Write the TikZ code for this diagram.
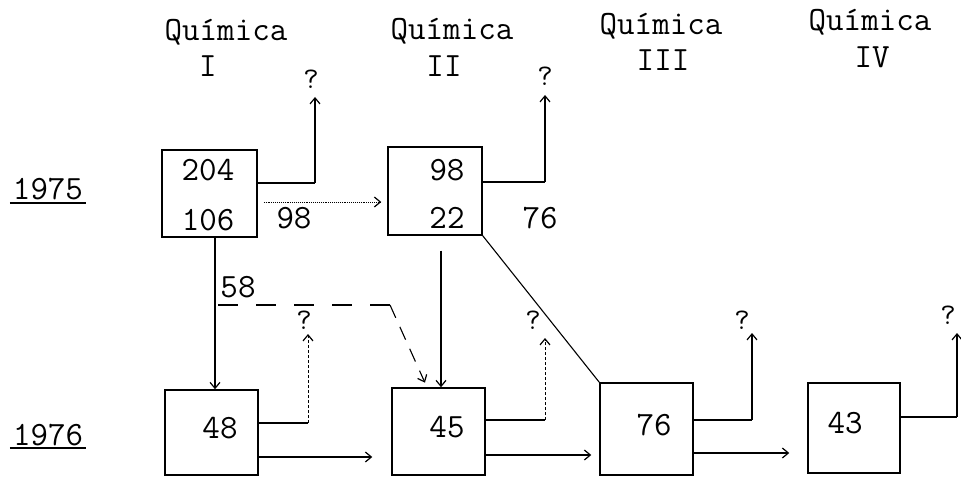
\documentclass[tikz,border=0pt]{standalone}
\usepackage{fontspec}
\usetikzlibrary{arrows.meta}
\begin{document}
\begin{tikzpicture}[x=1pt,y=-1pt,
  txt/.style={font=\ttfamily\fontsize{34}{40}\selectfont, inner sep=0pt},
  qm/.style={font=\ttfamily\fontsize{30}{36}\selectfont, inner sep=0pt},
  boxn/.style={draw, line width=1.5pt, inner sep=0pt},
  link/.style={line width=1.5pt},
  thin link/.style={line width=1.1pt},
  tip/.style={-{Straight Barb[length=6pt,width=10pt,line width=1.2pt]}},
  faint/.style={line width=0.9pt, densely dashed},
  dotline/.style={line width=0.9pt, densely dotted},
  dashline/.style={line width=1.5pt, dash pattern=on 20pt off 18pt}]
\useasboundingbox (0,0) rectangle (961,478);

% headers
\node[txt] (hI)   at (226,32) {Química};
\node[txt] (rI)   at (208,66) {I};
\node[txt] (hII)  at (452,31) {Química};
\node[txt] (rII)  at (444,66) {II};
\node[txt] (hIII) at (661,26) {Química};
\node[txt] (rIII) at (663,60) {III};
\node[txt] (hIV)  at (870,22) {Química};
\node[txt] (rIV)  at (872,57) {IV};

% years
\node[txt, anchor=base] (y75) at (48,200) {1975};
\draw[link] ([xshift=-3pt,yshift=-3pt]y75.base west) -- ([xshift=3pt,yshift=-3pt]y75.base east);
\node[txt, anchor=base] (y76) at (48,445) {1976};
\draw[link] ([xshift=-3pt,yshift=-3pt]y76.base west) -- ([xshift=3pt,yshift=-3pt]y76.base east);

% boxes
\node[boxn, minimum width=95pt, minimum height=87pt] (A) at (209.5,193.5) {};
\node[boxn, minimum width=94pt, minimum height=88pt] (B) at (435,191) {};
\node[boxn, minimum width=93pt, minimum height=85pt] (C) at (211.5,432.5) {};
\node[boxn, minimum width=93pt, minimum height=87pt] (D) at (438.5,431.5) {};
\node[boxn, minimum width=93pt, minimum height=92pt] (E) at (646.5,429) {};
\node[boxn, minimum width=92pt, minimum height=90pt] (F) at (854,428) {};

% numbers
\node[txt] (nA1) at (208,170) {204};
\node[txt] (nA2) at (208,220) {106};
\node[txt] (nB1) at (447,170) {98};
\node[txt] (nB2) at (447,218) {22};
\node[txt] (nAB) at (294,218) {98};
\node[txt] (nBo) at (540,218) {76};
\node[txt] (nC)  at (220,428) {48};
\node[txt] (nD)  at (447,427) {45};
\node[txt] (nE)  at (654,425) {76};
\node[txt] (nF)  at (845,423) {43};
\node[txt] (n58) at (238,287) {58};

% question marks
\node[qm] (qA) at (311,79) {?};
\node[qm] (qB) at (545,76) {?};
\node[qm] (qC) at (304,320) {?};
\node[qm] (qD) at (533,320) {?};
\node[qm] (qE) at (742,320) {?};
\node[qm] (qF) at (948,315) {?};

% arrow tips of the outflows
\coordinate (tA) at (315,97);
\coordinate (tB) at (545,95);
\coordinate (tC) at (308,334);
\coordinate (tD) at (545,338);
\coordinate (tE) at (752,333);
\coordinate (tF) at (957,333);
\coordinate (bA) at (315,183);
\coordinate (bB) at (545,182);
\coordinate (bC) at (308,423);
\coordinate (bD) at (545,420);
\coordinate (bE) at (752,420);
\coordinate (bF) at (957,417);

% outflows
\draw[link] (A.east |- bA) -- (bA);
\draw[link,tip] (bA) -- (tA);
\draw[link] (B.east |- bB) -- (bB);
\draw[link,tip] (bB) -- (tB);
\draw[link] (C.east |- bC) -- (bC);
\draw[faint,tip] (bC) -- (tC);
\draw[link] (D.east |- bD) -- (bD);
\draw[faint,tip] (bD) -- (tD);
\draw[link] (E.east |- bE) -- (bE);
\draw[link,tip] (bE) -- (tE);
\draw[link] (F.east |- bF) -- (bF);
\draw[link,tip] (bF) -- (tF);

% transfers within 1975
\draw[dotline,tip,shorten <=6pt,shorten >=6pt] (A.east |- 0,202) -- (B.west |- 0,202);

% 1975 -> 1976
\draw[link,tip] (A.south -| 215,0) -- (C.north -| 215,0);
\coordinate (d58) at (218,305);
\coordinate (k58) at (390,305);
\draw[dashline] (d58) -- (k58);
\draw[thin link,dash pattern=on 14pt off 10pt,tip,shorten >=5pt] (k58) -- (D.north -| 427,0);
\draw[link,tip,shorten <=15pt] (B.south -| 441,0) -- (D.north -| 441,0);
\draw[thin link] (B.south east) -- (E.north west);

% transfers within 1976
\draw[link,tip,shorten >=19pt] (C.east |- 0,457) -- (D.west |- 0,457);
\draw[link,tip,shorten >=8pt] (D.east |- 0,455) -- (E.west |- 0,455);
\draw[link,tip,shorten >=18pt] (E.east |- 0,453) -- (F.west |- 0,453);
\end{tikzpicture}
\end{document}
